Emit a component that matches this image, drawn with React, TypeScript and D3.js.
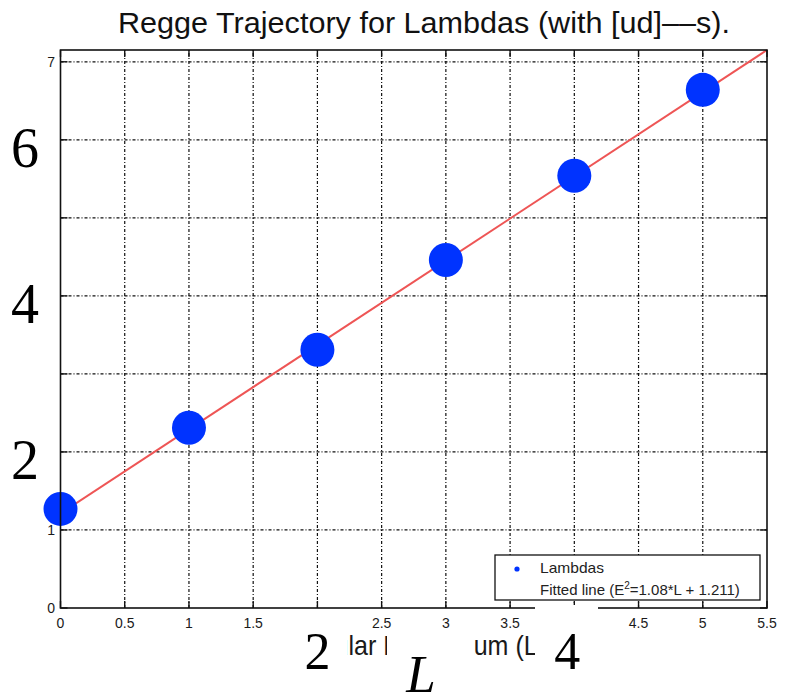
import React from "react";
import * as d3 from "d3";

// ---- data ----
const angularMomentum = [0, 1, 2, 3, 4, 5];
const energySquared = [1.27, 2.31, 3.31, 4.46, 5.54, 6.64];
const fitSlope = 1.08;
const fitIntercept = 1.211;
const xTicks = [0, 0.5, 1, 1.5, 2, 2.5, 3, 3.5, 4, 4.5, 5, 5.5];
const yTicks = [0, 1, 2, 3, 4, 5, 6, 7];
const xTickLabelsShown = ["0", "0.5", "1", "1.5", "", "2.5", "3", "3.5", "", "4.5", "5", "5.5"];
const yTickLabelsShown = ["0", "1", "", "", "", "", "", "7"];
const bigYLabels = [2, 4, 6];
const bigXLabels = [2, 4];
const titleText = "Regge Trajectory for Lambdas (with [ud]\u2013\u2013s).";
const xLabelText = "Angular Momentum (L)";
const legendNames = ["Lambdas", "Fitted line (E", "2", "=1.08*L + 1.211)"];

const W = 787;
const H = 700;

export default function App() {
  const xMax = 5.5;
  const yMax = fitSlope * xMax + fitIntercept;
  const x = d3.scaleLinear().domain([0, xMax]).range([60.5, 767]);
  const y = d3.scaleLinear().domain([0, yMax]).range([608, 50]);
  const line = d3
    .line<number>()
    .x((d) => x(d))
    .y((d) => y(fitSlope * d + fitIntercept));
  const [x0, x1] = x.range();
  const [y0, y1] = y.range();
  const tickLen = 7;
  const gridDash = "3,2,1,2";
  const sans = "'Liberation Sans', Arial, Helvetica, sans-serif";
  const serif = "'Liberation Serif', 'Times New Roman', serif";
  const tickColor = "#1a1a1a";

  return (
    <svg
      width={W}
      height={H}
      style={{ position: "absolute", left: 0, top: 0, background: "#fff" }}
    >
      <rect x={0} y={0} width={W} height={H} fill="#fff" />
      {/* title */}
      <text
        x={424}
        y={33}
        textAnchor="middle"
        fontFamily={sans}
        fontSize={29}
        fill="#111"
        textLength={612}
        lengthAdjust="spacingAndGlyphs"
      >
        {titleText}
      </text>

      {/* grid */}
      {xTicks
        .filter((t) => t > 0 && t < xMax)
        .map((t) => (
          <line
            key={"gx" + t}
            x1={x(t)}
            x2={x(t)}
            y1={y0}
            y2={y1}
            stroke="#111"
            strokeWidth={1.2}
            strokeDasharray={gridDash}
          />
        ))}
      {yTicks
        .filter((t) => t > 0)
        .map((t) => (
          <line
            key={"gy" + t}
            x1={x0}
            x2={x1}
            y1={y(t)}
            y2={y(t)}
            stroke="#111"
            strokeWidth={1.2}
            strokeDasharray={gridDash}
          />
        ))}

      {/* fitted line */}
      <path
        d={line([0, xMax]) || ""}
        fill="none"
        stroke="#ee5555"
        strokeWidth={2}
      />

      {/* points */}
      {angularMomentum.map((l, i) => (
        <circle
          key={"p" + i}
          cx={x(l)}
          cy={y(energySquared[i])}
          r={17}
          fill="#0033ff"
        />
      ))}

      {/* axes box */}
      <rect
        x={x0}
        y={y1}
        width={x1 - x0}
        height={y0 - y1}
        fill="none"
        stroke="#111"
        strokeWidth={1.6}
      />
      {/* ticks */}
      {xTicks.map((t) => (
        <g key={"tx" + t}>
          <line x1={x(t)} x2={x(t)} y1={y0} y2={y0 - tickLen} stroke="#111" strokeWidth={1.4} />
          <line x1={x(t)} x2={x(t)} y1={y1} y2={y1 + tickLen} stroke="#111" strokeWidth={1.4} />
        </g>
      ))}
      {yTicks.map((t) => (
        <g key={"ty" + t}>
          <line x1={x0} x2={x0 + tickLen} y1={y(t)} y2={y(t)} stroke="#111" strokeWidth={1.4} />
          <line x1={x1} x2={x1 - tickLen} y1={y(t)} y2={y(t)} stroke="#111" strokeWidth={1.4} />
        </g>
      ))}
      {/* tick labels */}
      {xTicks.map((t, i) => (
        <text
          key={"lx" + t}
          x={x(t)}
          y={628}
          textAnchor="middle"
          fontFamily={sans}
          fontSize={14}
          fill={tickColor}
        >
          {xTickLabelsShown[i]}
        </text>
      ))}
      {yTicks.map((t, i) => (
        <text
          key={"ly" + t}
          x={55}
          y={y(t) + 5}
          textAnchor="end"
          fontFamily={sans}
          fontSize={14}
          fill={tickColor}
        >
          {yTickLabelsShown[i]}
        </text>
      ))}

      {/* legend */}
      <rect x={495} y={555} width={265} height={45} fill="#fff" stroke="#111" strokeWidth={1.3} />
      <circle cx={517} cy={569} r={2.6} fill="#0033ff" />
      <text x={540} y={573} fontFamily={sans} fontSize={15} fill="#222" textLength={64} lengthAdjust="spacingAndGlyphs">
        {legendNames[0]}
      </text>
      <text x={540} y={595} fontFamily={sans} fontSize={15} fill="#222">
        {legendNames[1]}
        <tspan fontSize={10} dy={-6}>{legendNames[2]}</tspan>
        <tspan dy={6}>{legendNames[3]}</tspan>
      </text>

      {/* x-axis label (partially covered) */}
      <text
        x={418}
        y={655}
        textAnchor="middle"
        fontFamily={sans}
        fontSize={28}
        fill="#1a1a1a"
        textLength={256}
        lengthAdjust="spacingAndGlyphs"
      >
        {xLabelText}
      </text>
      <rect x={282} y={613} width={65} height={87} fill="#fff" />
      <rect x={387} y={631} width={87} height={69} fill="#fff" />
      <rect x={535} y={605} width={63} height={95} fill="#fff" />

      {/* big overlay labels */}
      {bigYLabels.map((v) => (
        <text
          key={"by" + v}
          x={25}
          y={y(v) + 27}
          textAnchor="middle"
          fontFamily={serif}
          fontSize={56}
          fill="#000"
        >
          {v}
        </text>
      ))}
      {bigXLabels.map((v) => (
        <text
          key={"bx" + v}
          x={x(v) - (v === 4 ? 7 : 0)}
          y={669}
          textAnchor="middle"
          fontFamily={serif}
          fontSize={52}
          fill="#000"
        >
          {v}
        </text>
      ))}
      <text
        x={421}
        y={692}
        textAnchor="middle"
        fontFamily={serif}
        fontStyle="italic"
        fontSize={53}
        fill="#000"
      >
        L
      </text>
    </svg>
  );
}
